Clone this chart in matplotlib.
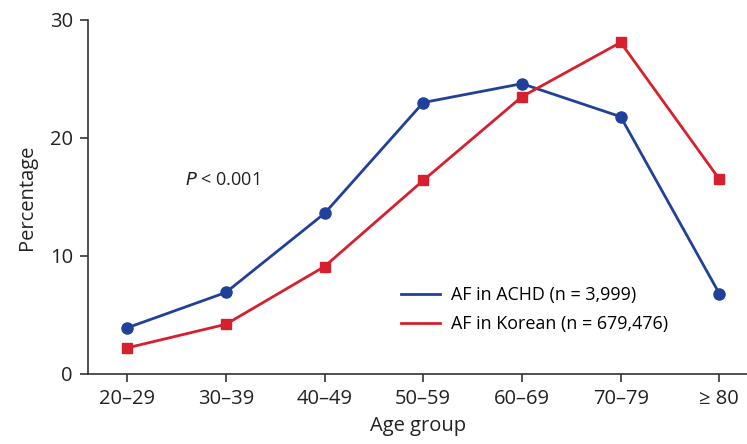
import matplotlib
matplotlib.use('Agg')
from matplotlib import pyplot as plt

plt.rcParams['font.family'] = ['Open Sans', 'DejaVu Sans']

age_groups = ['20–29', '30–39', '40–49', '50–59', '60–69', '70–79', '≥ 80']
achd = [3.9, 6.9, 13.6, 23.0, 24.6, 21.8, 6.8]
korean = [2.2, 4.2, 9.1, 16.4, 23.5, 28.1, 16.5]

blue = '#21409a'
red = '#d6202e'
axis_col = '#333333'

fig = plt.figure(figsize=(7.47, 4.44), dpi=100)
ax = fig.add_axes([0.118, 0.158, 0.882, 0.797])

x = list(range(len(age_groups)))
ax.plot(x, achd, color=blue, lw=2, marker='o', ms=8, label='AF in ACHD (n = 3,999)')
ax.plot(x, korean, color=red, lw=2, marker='s', ms=7, label='AF in Korean (n = 679,476)')

ax.set_xlim(-0.395, 6.28)
ax.set_ylim(0, 30)
ax.set_yticks([0, 10, 20, 30])
ax.set_xticks(x)
ax.set_xticklabels(age_groups)

for s in ['top', 'right']:
    ax.spines[s].set_visible(False)
for s in ['left', 'bottom']:
    ax.spines[s].set_color(axis_col)
    ax.spines[s].set_linewidth(1.2)
ax.tick_params(axis='both', direction='out', length=6, width=1.2, color=axis_col,
               labelsize=14.5, labelcolor='#222222', pad=5)

ax.set_xlabel('Age group', fontsize=14.5, color='#222222', labelpad=5)
ax.set_ylabel('Percentage', fontsize=14.5, color='#222222', labelpad=9)

ax.text(0.59, 16.4, r'$P$ < 0.001', fontsize=13, color='#222222', va='center')

leg = ax.legend(handles=ax.lines, loc='lower left', bbox_to_anchor=(0.45, 0.07),
                frameon=False, fontsize=12.9, handlelength=2.2, handletextpad=0.6,
                labelspacing=0.6)
for h in leg.legend_handles:
    h.set_marker('')

fig.savefig('out.png', dpi=100)
